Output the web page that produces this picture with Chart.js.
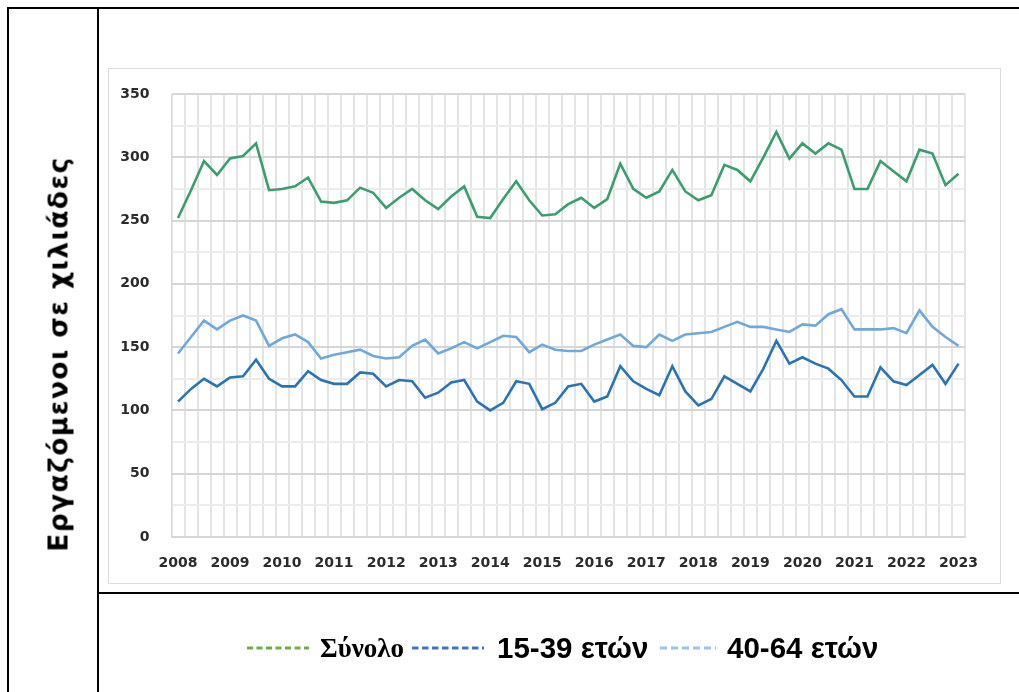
<!DOCTYPE html>
<html>
<head>
<meta charset="utf-8">
<script src="https://cdn.jsdelivr.net/npm/chart.js@4.4.1/dist/chart.umd.min.js"></script>
<style>
  html, body { margin:0; padding:0; background:#fff; }
  body { width:1019px; height:692px; position:relative; overflow:hidden; }
  .ln { position:absolute; background:#000; }
  #box { position:absolute; left:108px; top:68px; width:893px; height:516px; border:1px solid #dcdcdc; box-sizing:border-box; }
  #cv { position:absolute; left:0; top:0; }
  #ytitle { position:absolute; left:58px; top:354px; transform:translate(-50%,-50%) rotate(-90deg);
            white-space:nowrap; font-family:"DejaVu Sans", Verdana, sans-serif; font-weight:bold; font-size:26.5px; letter-spacing:1.4px; color:#000; }
  .lg { position:absolute; top:648px; transform:translateY(-50%); line-height:1; white-space:nowrap; color:#000; }
  .sans { font-family:"Liberation Sans", Arial, sans-serif; font-weight:bold; font-size:29.5px; }
  .serif { font-family:"Liberation Serif", "Times New Roman", serif; font-weight:bold; font-size:27px; }
  svg.lg { display:block; }
</style>
</head>
<body>
<div id="box"></div>
<canvas id="cv" width="1019" height="692"></canvas>
<div class="ln" style="left:7px;top:7px;width:1012px;height:2px;"></div>
<div class="ln" style="left:7px;top:7px;width:2px;height:685px;"></div>
<div class="ln" style="left:97px;top:7px;width:2px;height:685px;"></div>
<div class="ln" style="left:97px;top:592px;width:922px;height:2px;"></div>
<div id="ytitle">Εργαζόμενοι σε χιλιάδες</div>
<div id="legend"></div>
<script>
// ---- data ----
const years = ['2008','2009','2010','2011','2012','2013','2014','2015','2016','2017','2018','2019','2020','2021','2022','2023'];
const quarters = ['Q1','Q2','Q3','Q4'];
const seriesNames = ['Σύνολο', '15-39 ετών', '40-64 ετών'];
const total = [252,274,297,286,299,301,311,274,275,277,284,265,264,266,276,272,
               260,268,275,266,259,269,277,253,252,267,281,266,254,255,263,268,
               260,267,295,275,268,273,290,273,266,270,294,290,281,300,320,299,
               311,303,311,306,275,275,297,289,281,306,303,278,287];
const age15_39 = [107,117,125,119,126,127,140,125,119,119,131,124,121,121,130,129,
                  119,124,123,110,114,122,124,107,100,106,123,121,101,106,119,121,
                  107,111,135,123,117,112,135,115,104,109,127,121,115,133,155,137,
                  142,137,133,124,111,111,134,123,120,128,136,121,137];
const age40_64 = [145,158,171,164,171,175,171,151,157,160,154,141,144,146,148,143,
                  141,142,151,156,145,149,154,149,154,159,158,146,152,148,147,147,
                  152,156,160,151,150,160,155,160,161,162,166,170,166,166,164,162,
                  168,167,176,180,164,164,164,165,161,179,166,158,151];
const yTicks = [0,50,100,150,200,250,300,350];

// category labels (quarters)
const categories = [];
years.forEach(y => quarters.forEach(q => categories.push(y + ' ' + q)));
categories.length = total.length;

const colors = { total:'#3a9e6e', young:'#2a74b5', old:'#6ea8dd' };

new Chart(document.getElementById('cv'), {
  type:'line',
  data:{
    labels:categories,
    datasets:[
      { label:seriesNames[0], data:total, borderColor:colors.total, borderWidth:2.6, pointRadius:0, tension:0, fill:false },
      { label:seriesNames[2], data:age40_64, borderColor:colors.old, borderWidth:2.6, pointRadius:0, tension:0, fill:false },
      { label:seriesNames[1], data:age15_39, borderColor:colors.young, borderWidth:2.6, pointRadius:0, tension:0, fill:false }
    ]
  },
  options:{
    responsive:false, animation:false, devicePixelRatio:1,
    layout:{ padding:{ left:120, right:54, top:94, bottom:0 } },
    plugins:{ legend:{display:false}, tooltip:{enabled:false}, title:{display:false} },
    scales:{
      x:{
        type:'category', offset:true,
        grid:{ offset:true, color:'#e4e4e4', lineWidth:2, drawTicks:false },
        border:{ color:'#d8d8d8', width:1 },
        ticks:{ autoSkip:false, maxRotation:0, minRotation:0, padding:18, color:'#2b2b2b',
                font:{ family:'"DejaVu Sans", Verdana, sans-serif', weight:'bold', size:14 },
                callback:(v,i) => (categories[i] && categories[i].endsWith('Q1')) ? categories[i].slice(0,4) : '' },
        afterFit:s => { s.height = 155; }
      },
      y:{
        min:0, max:350,
        grid:{ color:ctx => (yTicks.includes(ctx.tick.value) ? '#d6d6d6' : '#ececec'), lineWidth:2, drawTicks:false },
        border:{ color:'#d8d8d8', width:1 },
        ticks:{ stepSize:25, padding:22, color:'#2b2b2b',
                font:{ family:'"DejaVu Sans", Verdana, sans-serif', weight:'bold', size:14 },
                callback:v => yTicks.includes(v) ? String(v) : '' },
        afterFit:s => { s.width = 51.5; }
      }
    }
  }
});

// legend (HTML, below chart)
const lg = document.getElementById('legend');
const items = [
  { x:247, w:62, color:'#70ad47', dash:'6 3.5', name:seriesNames[0], tx:320, cls:'serif' },
  { x:412, w:72, color:'#4472c4', dash:'6.5 3.5', name:seriesNames[1], tx:497, cls:'sans' },
  { x:660, w:56, color:'#9dc3e6', dash:'7 4', name:seriesNames[2], tx:727, cls:'sans' }
];
items.forEach(it => {
  const ns = 'http://www.w3.org/2000/svg';
  const svg = document.createElementNS(ns, 'svg');
  svg.setAttribute('class','lg');
  svg.setAttribute('width', it.w); svg.setAttribute('height', 4);
  svg.style.left = it.x + 'px';
  const l = document.createElementNS(ns, 'line');
  l.setAttribute('x1',0); l.setAttribute('x2',it.w); l.setAttribute('y1',2); l.setAttribute('y2',2);
  l.setAttribute('stroke', it.color); l.setAttribute('stroke-width',3); l.setAttribute('stroke-dasharray', it.dash);
  svg.appendChild(l); lg.appendChild(svg);
  const t = document.createElement('div');
  t.className = 'lg ' + it.cls; t.style.left = it.tx + 'px'; t.textContent = it.name;
  lg.appendChild(t);
});
</script>
</body>
</html>
